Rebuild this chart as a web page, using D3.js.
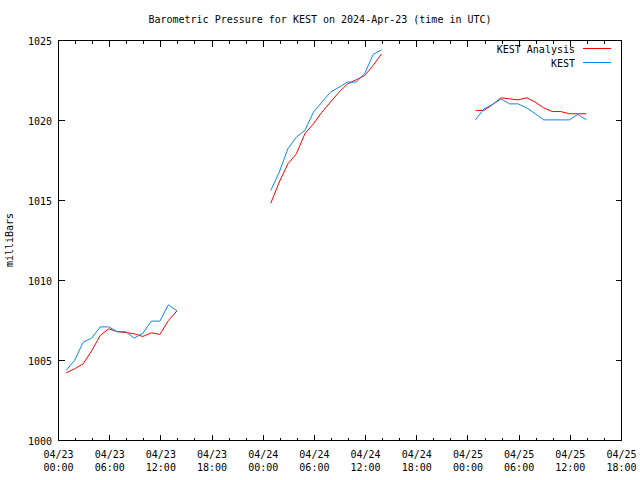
<!DOCTYPE html>
<html><head><meta charset="utf-8">
<script src="https://cdn.jsdelivr.net/npm/d3@7"></script>
<style>
body{margin:0;background:#fff;}
text{font-family:"DejaVu Sans Mono",monospace;font-size:10px;fill:#000;}
</style></head>
<body><svg id="c" width="640" height="480"></svg>
<script>
const title = "Barometric Pressure for KEST on 2024-Apr-23 (time in UTC)";
const yLabel = "milliBars";
const seriesNames = ["KEST Analysis", "KEST"];
const seriesColors = ["#ff0000", "#0a84ff"];

const times = [
 "2024-04-23T00:53Z","2024-04-23T01:53Z","2024-04-23T02:53Z","2024-04-23T03:53Z","2024-04-23T04:53Z","2024-04-23T05:53Z","2024-04-23T06:53Z",
 "2024-04-23T07:53Z","2024-04-23T08:53Z","2024-04-23T09:53Z","2024-04-23T10:53Z","2024-04-23T11:53Z","2024-04-23T12:53Z","2024-04-23T13:53Z",
 "2024-04-24T00:53Z","2024-04-24T01:53Z","2024-04-24T02:53Z","2024-04-24T03:53Z","2024-04-24T04:53Z","2024-04-24T05:53Z","2024-04-24T06:53Z",
 "2024-04-24T07:53Z","2024-04-24T08:53Z","2024-04-24T09:53Z","2024-04-24T10:53Z","2024-04-24T11:53Z","2024-04-24T12:53Z","2024-04-24T13:53Z",
 "2024-04-25T00:53Z","2024-04-25T01:53Z","2024-04-25T02:53Z","2024-04-25T03:53Z","2024-04-25T04:53Z","2024-04-25T05:53Z","2024-04-25T06:53Z",
 "2024-04-25T07:53Z","2024-04-25T08:53Z","2024-04-25T09:53Z","2024-04-25T10:53Z","2024-04-25T11:53Z","2024-04-25T12:53Z","2024-04-25T13:53Z"
];
const analysis = [
 1004.23,1004.48,1004.79,1005.60,1006.56,1006.98,1006.80,1006.75,1006.67,1006.50,1006.73,1006.63,1007.50,1008.10,
 1014.83,1016.15,1017.29,1017.92,1019.17,1019.79,1020.52,1021.15,1021.77,1022.29,1022.54,1022.81,1023.44,1024.17,
 1020.63,1020.63,1021.00,1021.42,1021.35,1021.29,1021.42,1021.15,1020.79,1020.56,1020.56,1020.42,1020.42,1020.42
];
const observed = [
 1004.38,1005.00,1006.14,1006.40,1007.10,1007.10,1006.80,1006.80,1006.40,1006.70,1007.46,1007.46,1008.48,1008.10,
 1015.63,1016.77,1018.23,1018.96,1019.38,1020.52,1021.15,1021.77,1022.08,1022.40,1022.40,1022.92,1024.13,1024.42,
 1020.04,1020.73,1021.00,1021.35,1021.04,1021.04,1020.79,1020.42,1020.04,1020.04,1020.04,1020.04,1020.38,1020.04
];
const yTicks = [1000,1005,1010,1015,1020,1025];
const xStart = "2024-04-23T00:00Z", xEnd = "2024-04-25T18:00Z";

const svg = d3.select("#c");
const L=58.5, R=621.5, T=40.5, B=440.5;
const x = d3.scaleUtc().domain([new Date(xStart), new Date(xEnd)]).range([L,R]);
const y = d3.scaleLinear().domain([1000,1025]).range([B,T]);

svg.append("text").attr("x",320).attr("y",23).attr("text-anchor","middle").text(title);
svg.append("text").attr("transform","translate(13,240) rotate(-90)").attr("text-anchor","middle").text(yLabel);

const ax = svg.append("g").attr("stroke","#000").attr("shape-rendering","crispEdges");
const minor = d3.utcHour.every(2).range(new Date(xStart), new Date(new Date(xEnd).getTime()+1));
minor.forEach(d=>{
  const major = d.getUTCHours()%6===0;
  const len = major?6:3;
  const xx = Math.round(x(d)-0.5)+0.5;
  ax.append("line").attr("x1",xx).attr("x2",xx).attr("y1",B).attr("y2",B-len);
  ax.append("line").attr("x1",xx).attr("x2",xx).attr("y1",T).attr("y2",T+len);
});
yTicks.forEach(v=>{
  const yy = Math.round(y(v)-0.5)+0.5;
  ax.append("line").attr("x1",L).attr("x2",L+6).attr("y1",yy).attr("y2",yy);
  ax.append("line").attr("x1",R).attr("x2",R-6).attr("y1",yy).attr("y2",yy);
  svg.append("text").attr("x",52).attr("y",y(v)+4).attr("text-anchor","end").text(v);
});
ax.append("rect").attr("x",L).attr("y",T).attr("width",R-L).attr("height",B-T).attr("fill","none");

const fmtD = d3.utcFormat("%m/%d"), fmtT = d3.utcFormat("%H:%M");
d3.utcHour.every(6).range(new Date(xStart), new Date(new Date(xEnd).getTime()+1)).forEach(d=>{
  svg.append("text").attr("x",x(d)).attr("y",458).attr("text-anchor","middle").text(fmtD(d));
  svg.append("text").attr("x",x(d)).attr("y",471).attr("text-anchor","middle").text(fmtT(d));
});

const parsed = times.map(t=>new Date(t));
function segments(vals){
  const segs=[]; let cur=[];
  vals.forEach((v,i)=>{
    if(i>0 && parsed[i]-parsed[i-1] > 1.5*3600e3){ segs.push(cur); cur=[]; }
    cur.push([parsed[i],v]);
  });
  segs.push(cur); return segs;
}
const line = d3.line().x(d=>x(d[0])).y(d=>y(d[1]));
[analysis, observed].forEach((vals,k)=>{
  segments(vals).forEach(s=>{
    svg.append("path").attr("d",line(s)).attr("fill","none").attr("stroke",seriesColors[k]).attr("stroke-width",1);
  });
});

const leg = svg.append("g");
seriesNames.forEach((n,k)=>{
  const yy = 48.5 + k*14;
  leg.append("text").attr("x",575).attr("y",yy+4).attr("text-anchor","end").text(n);
  leg.append("path").attr("d",`M583,${yy}H611`).attr("fill","none")
    .attr("stroke",seriesColors[k]).attr("stroke-width",1);
});
</script></body></html>
